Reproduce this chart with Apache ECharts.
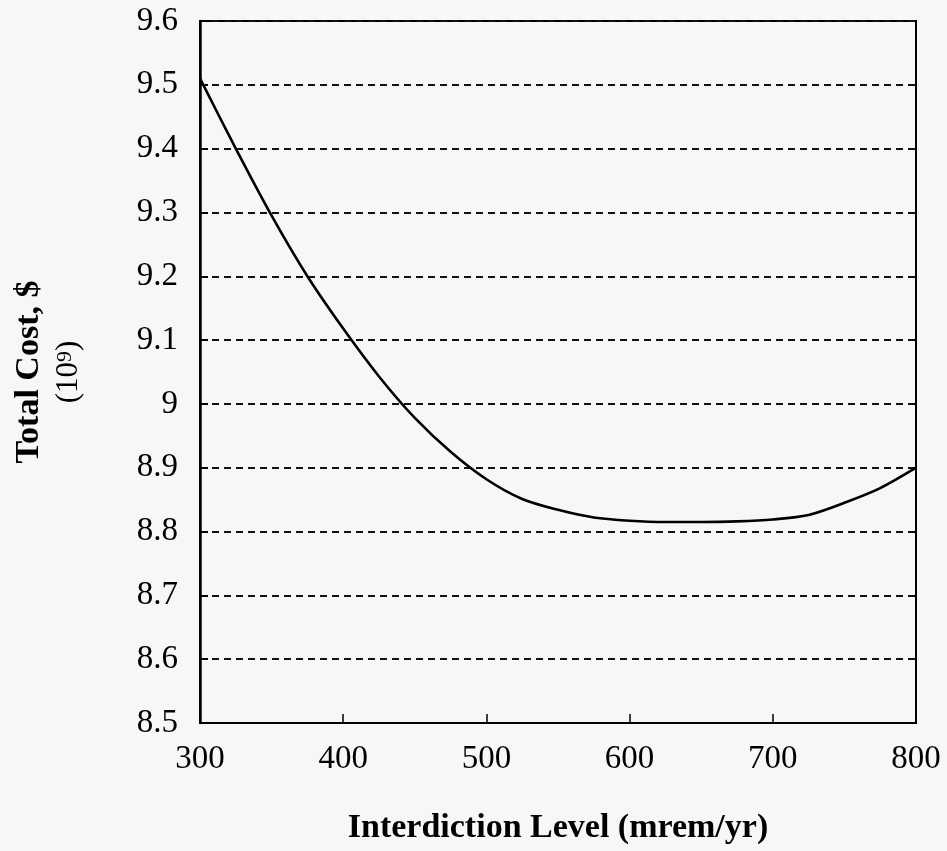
<!DOCTYPE html>
<html>
<head>
<meta charset="utf-8">
<script src="https://cdn.jsdelivr.net/npm/echarts@6/dist/echarts.min.js"></script>
<style>
html,body{margin:0;padding:0;background:#f7f7f7;}
#chart{width:947px;height:851px;}
</style>
</head>
<body>
<div id="chart"></div>
<script>
// Data
const levels = [300, 325, 350, 375, 400, 425, 450, 475, 500, 525, 550, 575, 600, 625, 650, 675, 700, 725, 750, 775, 800];
const totalCost = [9.51, 9.40, 9.295, 9.20, 9.118, 9.043, 8.978, 8.925, 8.882, 8.851, 8.834, 8.822, 8.817, 8.815, 8.815, 8.816, 8.819, 8.826, 8.845, 8.868, 8.90];
const xTicks = [300, 400, 500, 600, 700, 800];
const yTicks = [8.5, 8.6, 8.7, 8.8, 8.9, 9.0, 9.1, 9.2, 9.3, 9.4, 9.5, 9.6];
const xTitle = 'Interdiction Level (mrem/yr)';
const yTitleLine1 = 'Total Cost, $';
const yTitleBase = '(10';
const yTitleExp = '9';

const serif = '"Liberation Serif", "Times New Roman", serif';
const chart = echarts.init(document.getElementById('chart'), null, {renderer: 'canvas'});
const option = {
  backgroundColor: '#f7f7f7',
  animation: false,
  grid: {
    left: 200, right: 31, top: 21, bottom: 128,
    show: true, borderColor: '#000', borderWidth: 2, backgroundColor: 'transparent'
  },
  xAxis: {
    type: 'value',
    min: xTicks[0], max: xTicks[xTicks.length - 1], interval: 100,
    name: xTitle,
    nameLocation: 'middle',
    nameGap: 88,
    nameTextStyle: {fontFamily: serif, fontSize: 34, fontWeight: 'bold', color: '#000'},
    axisLine: {show: true, lineStyle: {color: '#000', width: 2}},
    axisTick: {show: true, inside: true, length: 9, lineStyle: {color: '#000', width: 1.5}},
    axisLabel: {fontFamily: serif, fontSize: 33, color: '#000', margin: 20},
    splitLine: {show: false}
  },
  yAxis: {
    type: 'value',
    min: yTicks[0], max: yTicks[yTicks.length - 1], interval: 0.1,
    name: '{a|' + yTitleLine1 + '}\n{b|' + yTitleBase + '}{c|' + yTitleExp + '}{b|)}',
    nameLocation: 'middle',
    nameRotate: 90,
    nameGap: 111,
    nameTextStyle: {
      color: '#000',
      align: 'center',
      rich: {
        a: {fontFamily: serif, fontSize: 34, fontWeight: 'bold', lineHeight: 40, color: '#000', align: 'center'},
        b: {fontFamily: serif, fontSize: 31, lineHeight: 40, color: '#000', verticalAlign: 'middle'},
        c: {fontFamily: serif, fontSize: 22, color: '#000', verticalAlign: 'top', padding: [5, 0, 0, 0]}
      }
    },
    axisLine: {show: true, lineStyle: {color: '#000', width: 2.5}},
    axisTick: {show: true, inside: true, length: 8, lineStyle: {color: '#000', width: 2}},
    axisLabel: {
      fontFamily: serif, fontSize: 33, color: '#000', margin: 22,
      formatter: v => (Math.round(v * 10) / 10).toFixed(1).replace(/\.0$/, '')
    },
    splitLine: {show: true, lineStyle: {color: '#111', width: 1.8, type: [7, 5]}}
  },
  series: [{
    type: 'line',
    data: levels.map((x, i) => [x, totalCost[i]]),
    smooth: 0.3,
    showSymbol: false,
    lineStyle: {color: '#000', width: 2.6},
    clip: true
  }]
};
chart.setOption(option);
</script>
</body>
</html>
